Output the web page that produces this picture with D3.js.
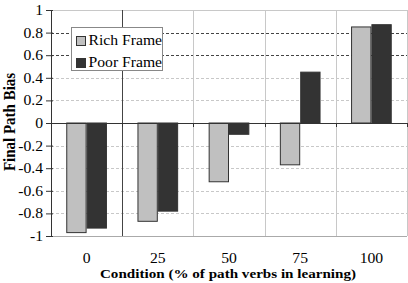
<!DOCTYPE html>
<html lang="en">
<head>
<meta charset="UTF-8">
<title>Final Path Bias</title>
<style>
  body { margin: 0; background: #fff; }
</style>
</head>
<body>
<svg id="chart"></svg>
<script src="https://cdn.jsdelivr.net/npm/d3@7/dist/d3.min.js"></script>
<script>
const conditions = ["0", "25", "50", "75", "100"];
const seriesNames = ["Rich Frame", "Poor Frame"];
const richFrame = [-0.97, -0.87, -0.52, -0.37, 0.85];
const poorFrame = [-0.93, -0.78, -0.10, 0.45, 0.87];
const yTicks = [-1, -0.8, -0.6, -0.4, -0.2, 0, 0.2, 0.4, 0.6, 0.8, 1];
const colors = ["#c0c0c0", "#333333"];
const FONT = "Liberation Serif";
const SX = 1.12; // the source figure is a little wider than tall, text too

const W = 408, H = 283;
const margin = { top: 10, right: 1, bottom: 47, left: 51 };
const width = W - margin.left - margin.right;
const height = H - margin.top - margin.bottom;

const svg = d3.select("#chart").attr("width", W).attr("height", H)
  .attr("font-family", FONT);
const g = svg.append("g").attr("transform", "translate(" + margin.left + "," + margin.top + ")");

const x = d3.scaleBand().domain(conditions).range([0, width]).padding(0);
const x1 = d3.scaleBand().domain(seriesNames).range([0, x.bandwidth()]).paddingInner(0).paddingOuter(0.75);
const y = d3.scaleLinear().domain([-1, 1]).range([height, 0]);

// put a text at (px,py) with the horizontal stretch
function place(sel, px, py) {
  sel.attr("transform", "translate(" + px + "," + py + ") scale(" + SX + ",1)");
}

// horizontal grid (dashed)
g.append("g").selectAll("line")
  .data(yTicks.filter(function (d) { return d !== 0 && d !== 1 && d !== -1; }))
  .enter().append("line")
  .attr("x1", 0).attr("x2", width)
  .attr("y1", function (d) { return Math.round(y(d)) + 0.5; })
  .attr("y2", function (d) { return Math.round(y(d)) + 0.5; })
  .attr("stroke", function (d) { return (d === 0.8 || d === 0.6) ? "#444" : "#c8c8c8"; })
  .attr("stroke-dasharray", "3,2");

// frame top / bottom
g.append("line").attr("x1", 0).attr("x2", width).attr("y1", 0.5).attr("y2", 0.5).attr("stroke", "#c8c8c8");
g.append("line").attr("x1", 0).attr("x2", width).attr("y1", height + 0.5).attr("y2", height + 0.5).attr("stroke", "#aaa");

// vertical category boundaries
g.append("g").selectAll("line")
  .data(conditions.slice(1).concat(["end"]))
  .enter().append("line")
  .attr("x1", function (d, i) { return Math.round(x.bandwidth() * (i + 1)) + 0.5; })
  .attr("x2", function (d, i) { return Math.round(x.bandwidth() * (i + 1)) + 0.5; })
  .attr("y1", 0).attr("y2", height)
  .attr("stroke", function (d, i) { return i === 0 ? "#444" : "#c8c8c8"; });

// bars
const rows = conditions.map(function (c, i) {
  return { cond: c, vals: [richFrame[i], poorFrame[i]] };
});
const groups = g.selectAll("g.cat").data(rows).enter().append("g")
  .attr("class", "cat")
  .attr("transform", function (d) { return "translate(" + x(d.cond) + ",0)"; });
groups.selectAll("rect")
  .data(function (d) { return d.vals.map(function (v, j) { return { s: seriesNames[j], v: v, j: j }; }); })
  .enter().append("rect")
  .attr("x", function (d) { return x1(d.s) + 0.5; })
  .attr("width", x1.bandwidth() - 1)
  .attr("y", function (d) { return y(Math.max(0, d.v)); })
  .attr("height", function (d) { return Math.abs(y(d.v) - y(0)); })
  .attr("fill", function (d) { return colors[d.j]; })
  .attr("stroke", "#333")
  .attr("stroke-width", 1);

// zero line with ticks
g.append("line").attr("x1", 0).attr("x2", width)
  .attr("y1", Math.round(y(0)) + 0.5).attr("y2", Math.round(y(0)) + 0.5)
  .attr("stroke", "#333");
g.append("g").selectAll("line")
  .data(d3.range(conditions.length + 1))
  .enter().append("line")
  .attr("x1", function (d) { return Math.round(x.bandwidth() * d) + 0.5; })
  .attr("x2", function (d) { return Math.round(x.bandwidth() * d) + 0.5; })
  .attr("y1", y(0)).attr("y2", y(0) + 4)
  .attr("stroke", "#333");

// y axis
const yAxis = g.append("g")
  .call(d3.axisLeft(y).tickValues(yTicks).tickSize(5)
    .tickFormat(function (d) { return d3.format("")(d).replace("−", "-"); }));
yAxis.attr("font-family", FONT).attr("font-size", 14);
yAxis.select(".domain").attr("stroke", "#333");
yAxis.selectAll(".tick line").attr("stroke", "#333").attr("x2", -5).attr("x1", 2);
yAxis.selectAll(".tick text").attr("fill", "#000").attr("x", null)
  .call(place, -8, 0);

// x tick labels
g.append("g").selectAll("text")
  .data(conditions).enter().append("text")
  .each(function (d) { place(d3.select(this), x(d) + x.bandwidth() / 2, height + 27); })
  .attr("text-anchor", "middle")
  .attr("font-size", 14)
  .text(function (d) { return d; });

// axis titles
svg.append("text")
  .call(place, 228, 278)
  .attr("text-anchor", "middle")
  .attr("font-size", 13.5).attr("font-weight", "bold")
  .text("Condition (% of path verbs in learning)");
svg.append("text")
  .attr("transform", "translate(15,122) scale(" + SX + ",1) rotate(-90)")
  .attr("text-anchor", "middle")
  .attr("font-size", 15).attr("font-weight", "bold")
  .text("Final Path Bias");

// legend
const lg = svg.append("g").attr("transform", "translate(71,27)");
lg.append("rect").attr("x", 0.5).attr("y", 0.5).attr("width", 91).attr("height", 43)
  .attr("fill", "#fff").attr("stroke", "#888");
seriesNames.forEach(function (name, i) {
  lg.append("rect").attr("x", 5.5).attr("y", 9.5 + i * 22).attr("width", 9).attr("height", 9)
    .attr("fill", colors[i]).attr("stroke", "#333");
  lg.append("text").call(place, 17.5, 18 + i * 22)
    .attr("font-size", 14).text(name);
});
</script>
</body>
</html>
